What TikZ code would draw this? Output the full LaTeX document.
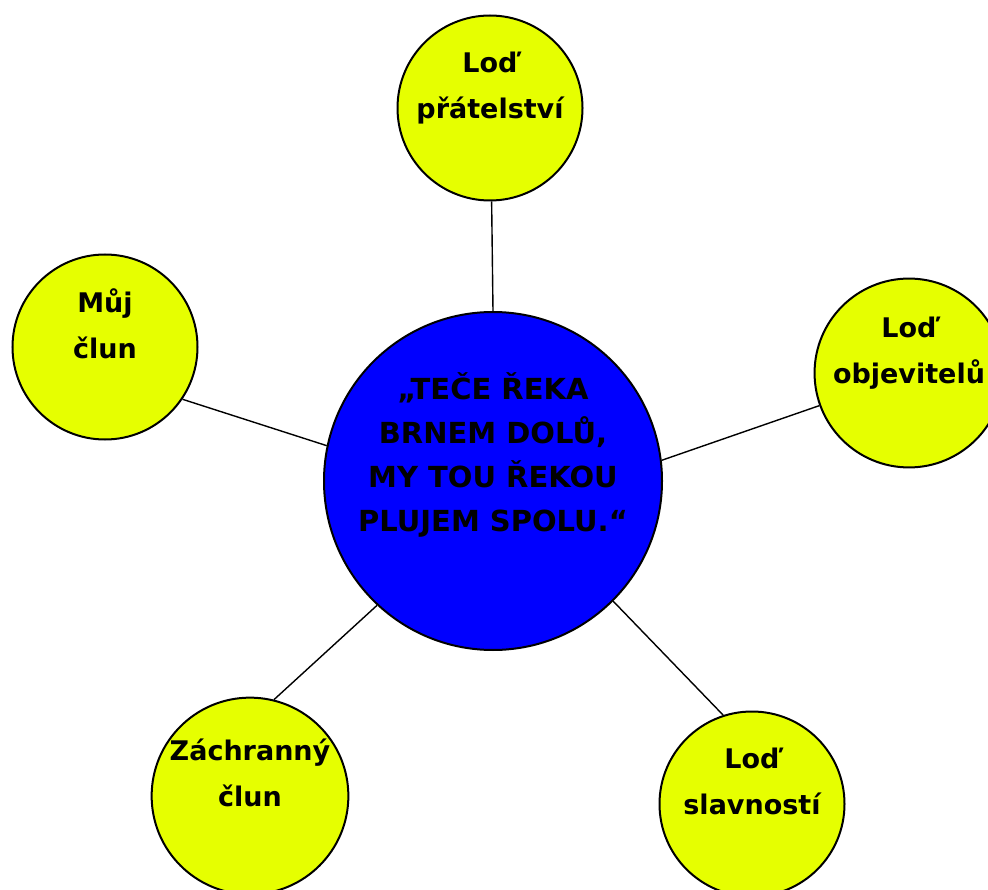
\documentclass[tikz,border=0pt]{standalone}
\usepackage{fontspec}
\setmainfont{DejaVu Sans}
\definecolor{lodyellow}{RGB}{230,255,0}
\definecolor{rekablue}{RGB}{0,0,255}

\begin{document}
\begin{tikzpicture}[x=1pt,y=-1pt,
    ship/.style={circle, draw, line width=2pt, fill=lodyellow, minimum size=185pt, inner sep=0pt, align=center, font=\bfseries\fontsize{27}{46}\selectfont},
    hub/.style={circle, draw, line width=2pt, fill=rekablue, minimum size=338pt, inner sep=-5pt, align=center, font=\bfseries\fontsize{29}{44}\selectfont},
    spoke/.style={line width=1.4pt}]
    \useasboundingbox (0,0) rectangle (988,890);

    % hub
    \node[hub] (reka) at (493,481) {„TEČE ŘEKA\\BRNEM DOLŮ,\\MY TOU ŘEKOU\\PLUJEM SPOLU.“\\[14pt]~};

    % ships round it
    \node[ship] (pratelstvi) at (490,108) {Loď\\přátelství\\~};
    \node[ship] (clun) at (105,347) {Můj\\člun\\~};
    \node[ship] (objevitelu) at (909,373) {Loď\\objevitelů\\~};
    \node[ship] (zachranny) at (250,796) {Záchranný\\člun\\~};
    \node[ship] (slavnosti) at (752,804) {Loď\\slavností\\~};

    \draw[spoke] (reka.90) -- (pratelstvi.271);
    \draw[spoke] (reka.168) -- (clun.326);
    \draw[spoke] (reka.7.7) -- (objevitelu.200.6);
    \draw[spoke] (reka.227.5) -- (zachranny.76);
    \draw[spoke] (reka.315.7) -- (slavnosti.108.8);
\end{tikzpicture}
\end{document}
